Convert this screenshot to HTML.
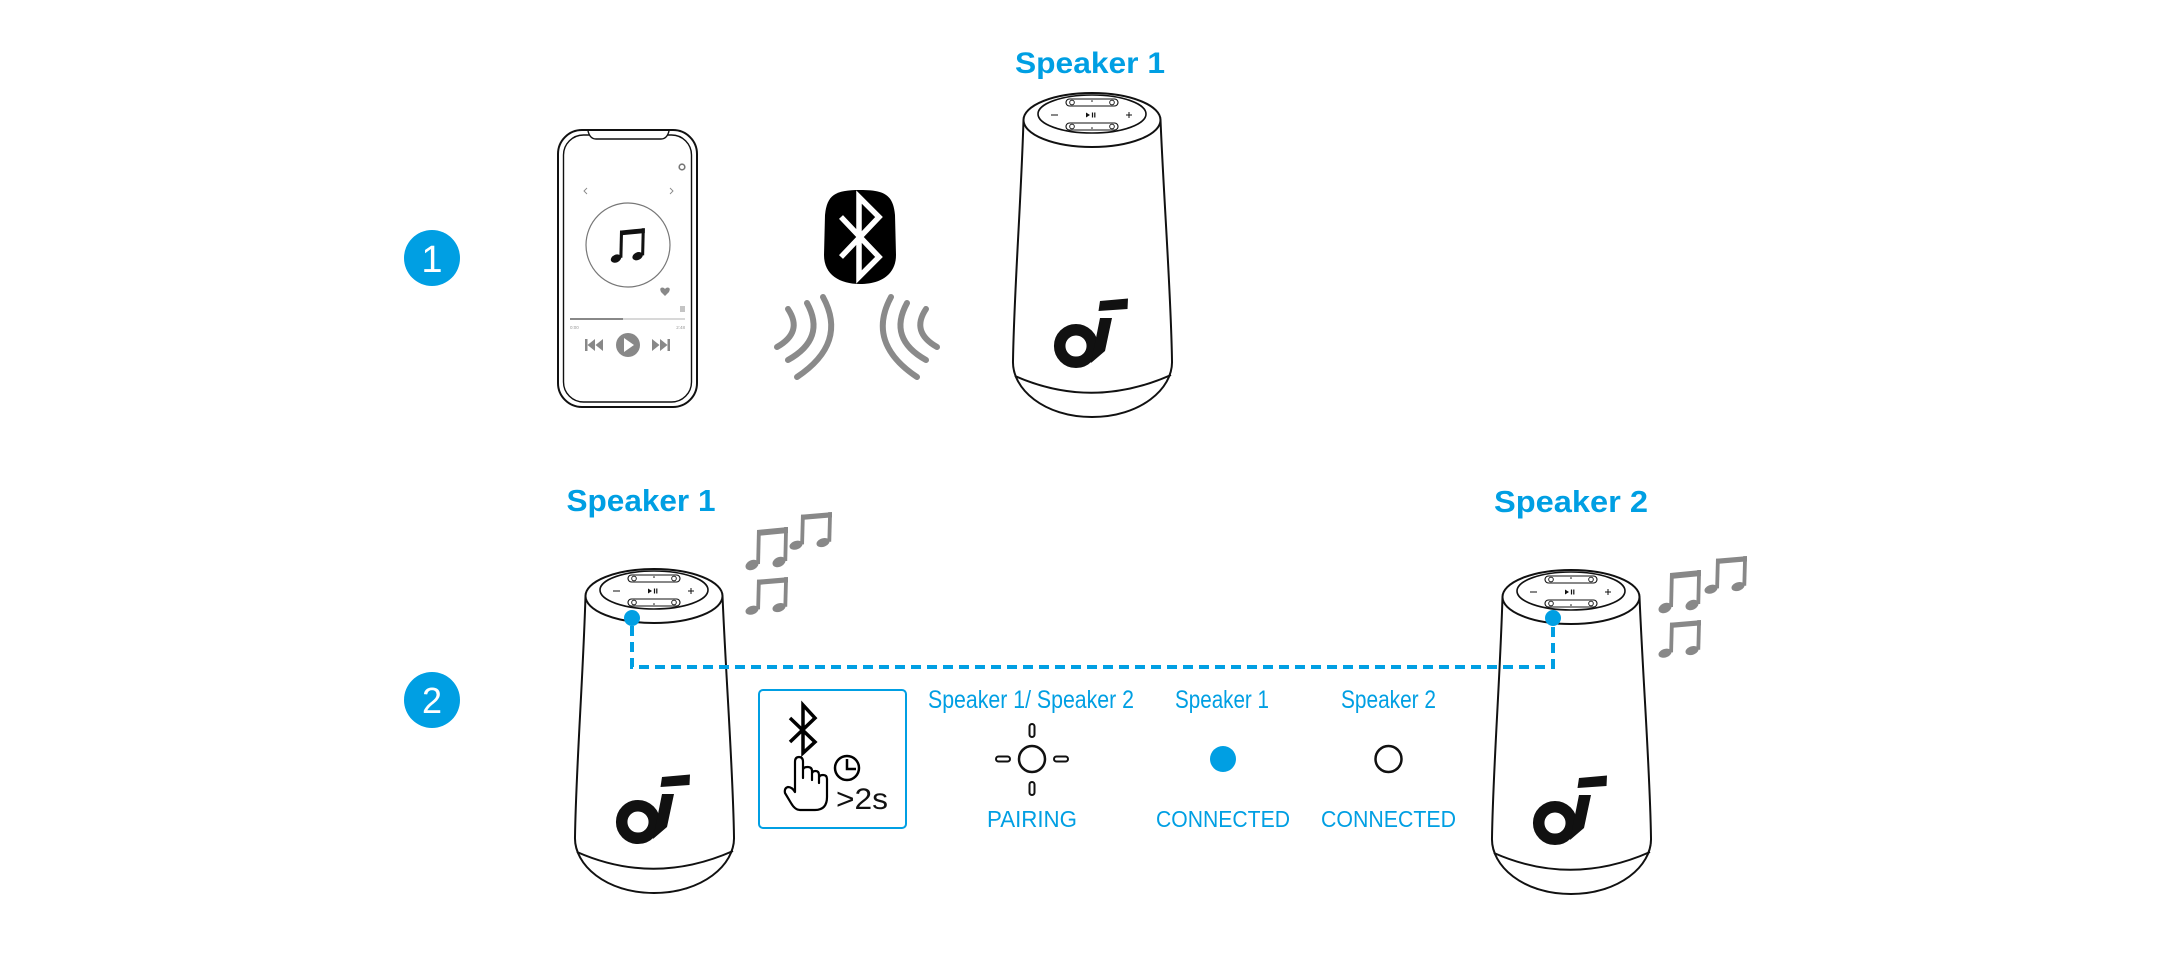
<!DOCTYPE html>
<html><head><meta charset="utf-8"><style>
html,body{margin:0;padding:0;background:#fff;}
svg{display:block;}
text{font-family:"Liberation Sans",Arial,sans-serif;}
</style></head><body>
<svg width="2180" height="960" viewBox="0 0 2180 960" xmlns="http://www.w3.org/2000/svg">
<defs>
  <g id="spk" fill="none" stroke="#111" stroke-width="2" stroke-linejoin="round">
    <path fill="#fff" d="M -68.5 27 C -71 110 -78 200 -79 268 C -80 296 -48 324 0 324 C 48 324 81 296 80 268 C 79 200 72 110 68.5 27 Z"/>
    <path d="M -77 283 Q 0 317 79 282"/>
    <ellipse cx="0" cy="27" rx="68.5" ry="27" fill="#fff"/>
    <ellipse cx="0" cy="21" rx="54" ry="19" stroke-width="1.6"/>
    <rect x="-26" y="6" width="52" height="7" rx="3.5" stroke-width="1.1"/>
    <circle cx="-20" cy="9.5" r="2.3" stroke-width="0.9"/>
    <circle cx="20" cy="9.5" r="2.3" stroke-width="0.9"/>
    <circle cx="0" cy="8" r="0.8" fill="#111" stroke="none"/>
    <rect x="-26" y="30" width="52" height="7" rx="3.5" stroke-width="1.1"/>
    <circle cx="-20" cy="33.5" r="2.3" stroke-width="0.9"/>
    <circle cx="20" cy="33.5" r="2.3" stroke-width="0.9"/>
    <circle cx="0" cy="35" r="0.8" fill="#111" stroke="none"/>
    <path d="M -41 22 L -34 22 M 34 22 L 40 22 M 37 19 L 37 25" stroke-width="1"/>
    <path d="M -6 19.5 L -6 24.5 L -2 22 Z" fill="#111" stroke="none"/>
    <path d="M 0.5 19.5 L 0.5 24.5 M 2.8 19.5 L 2.8 24.5" stroke-width="1.2"/>
    <circle cx="-16" cy="253" r="16.3" stroke="#111" stroke-width="11.5"/>
    <path d="M -1 270 L 13 258 L 20 225 L 8 225 Z" fill="#111" stroke="none"/>
    <path d="M 8 208 L 36 205.5 L 35.5 216 L 6.5 218 Z" fill="#111" stroke="none"/>
  </g>
  <g id="note">
    <path d="M0 2 L31 -1 L31 5 L0 8 Z"/>
    <path d="M0 2 L3.8 2 L3 36 L-0.8 36 Z"/>
    <ellipse cx="-5" cy="37" rx="6.8" ry="4.8" transform="rotate(-25 -5 37)"/>
    <path d="M27.2 -1 L31 -1 L30.2 33 L26.4 33 Z"/>
    <ellipse cx="22" cy="34" rx="6.8" ry="4.8" transform="rotate(-25 22 34)"/>
  </g>
</defs>

<!-- Step numbers -->
<circle cx="432" cy="258" r="28" fill="#009fe3"/>
<text x="432" y="272" font-size="38" fill="#fff" text-anchor="middle">1</text>
<circle cx="432" cy="700" r="28" fill="#009fe3"/>
<text x="432" y="713" font-size="36" fill="#fff" text-anchor="middle">2</text>

<!-- Phone -->
<rect x="558" y="130" width="139" height="277" rx="24" fill="#fff" stroke="#111" stroke-width="2"/>
<rect x="563.5" y="135" width="128" height="267" rx="20" fill="none" stroke="#111" stroke-width="1.4"/>
<path d="M 588 131 Q 590 139 596 139 L 661 139 Q 667 139 669 131" fill="#fff" stroke="#111" stroke-width="1.4"/>
<circle cx="682" cy="167" r="2.8" fill="none" stroke="#777" stroke-width="1.6"/>
<path d="M 587 188 L 584 191 L 587 194 M 670 188 L 673 191 L 670 194" fill="none" stroke="#888" stroke-width="0.9"/>
<circle cx="628" cy="245" r="42" fill="none" stroke="#777" stroke-width="1.2"/>
<use href="#note" transform="translate(620,229) scale(0.8)" fill="#111"/>
<path d="M 665 296 L 661 292 Q 659 288 662 287.5 Q 664 287.5 665 289 Q 666 287.5 668 287.5 Q 671 288 669 292 Z" fill="#888"/>
<path d="M 680 307 L 685 307 M 680 309 L 685 309 M 680 311 L 685 311" stroke="#888" stroke-width="1"/>
<line x1="570" y1="319" x2="685" y2="319" stroke="#ccc" stroke-width="1.5"/>
<line x1="570" y1="319" x2="623" y2="319" stroke="#888" stroke-width="2"/>
<text x="570" y="329" font-size="4.5" fill="#999">0:00</text>
<text x="685" y="329" font-size="4.5" fill="#999" text-anchor="end">2:48</text>
<g fill="#888">
  <rect x="585" y="339" width="2.5" height="12"/>
  <path d="M 595 339 L 587.5 345 L 595 351 Z M 603 339 L 595.5 345 L 603 351 Z"/>
  <circle cx="628" cy="345" r="12"/>
  <path d="M 652 339 L 659.5 345 L 652 351 Z M 660 339 L 667.5 345 L 660 351 Z"/>
  <rect x="667.5" y="339" width="2.5" height="12"/>
</g>
<path d="M 624 338 L 634 345 L 624 352 Z" fill="#fff"/>

<!-- Bluetooth blob -->
<path d="M 860 190 C 885 190 893 195 895 215 L 896 255 C 896 275 880 284 860 284 C 840 284 824 275 824 255 L 825 215 C 827 195 835 190 860 190 Z" fill="#000"/>
<path d="M 841 217 L 879 257 L 859 277 L 859 197 L 879 217 L 841 257" fill="none" stroke="#fff" stroke-width="5.5" stroke-linejoin="miter"/>
<g fill="none" stroke="#8a8a8a" stroke-width="6" stroke-linecap="round">
  <path d="M 823 297 Q 848 343 797 377"/>
  <path d="M 807 303 Q 826.5 338.5 788 360"/>
  <path d="M 788 309 Q 803.5 332 777 347"/>
  <path d="M 891 297 Q 866 343 917 377"/>
  <path d="M 907 303 Q 887.5 338.5 926 360"/>
  <path d="M 926 309 Q 910.5 332 937 347"/>
</g>

<!-- Row 1 speaker -->
<text x="1090" y="73" font-size="30" font-weight="bold" fill="#009fe3" text-anchor="middle" textLength="150" lengthAdjust="spacingAndGlyphs">Speaker 1</text>
<use href="#spk" transform="translate(1092,93)"/>

<!-- Row 2 labels -->
<text x="641" y="511" font-size="31" font-weight="bold" fill="#009fe3" text-anchor="middle" textLength="149" lengthAdjust="spacingAndGlyphs">Speaker 1</text>
<text x="1571" y="512" font-size="31" font-weight="bold" fill="#009fe3" text-anchor="middle" textLength="154" lengthAdjust="spacingAndGlyphs">Speaker 2</text>

<!-- Row 2 speakers -->
<use href="#spk" transform="translate(654,569)"/>
<use href="#spk" transform="translate(1571,570)"/>

<!-- notes -->
<g fill="#888">
  <use href="#note" transform="translate(757,528)"/>
  <use href="#note" transform="translate(801,513) scale(1,0.87)"/>
  <use href="#note" transform="translate(757,578) scale(1,0.87)"/>
  <use href="#note" transform="translate(1670,571)"/>
  <use href="#note" transform="translate(1716,557) scale(1,0.87)"/>
  <use href="#note" transform="translate(1670,621) scale(1,0.87)"/>
</g>

<!-- dashed connector -->
<polyline points="632,626 632,667 1553,667 1553,626" fill="none" stroke="#009fe3" stroke-width="4" stroke-dasharray="10 6"/>
<circle cx="632" cy="618" r="8" fill="#009fe3"/>
<circle cx="1553" cy="618" r="8" fill="#009fe3"/>

<!-- instruction box -->
<rect x="759" y="690" width="147" height="138" rx="4" fill="#fff" stroke="#009fe3" stroke-width="2"/>
<path d="M 790 718 L 815 742 L 803 753 L 803 705 L 815 718 L 790 742" fill="none" stroke="#000" stroke-width="3.5"/>
<path d="M 795 792 L 795 762 Q 795 757 799 757 Q 803 757 803 762 L 803 778 L 803 770 Q 803 767 807.5 767 Q 812 767 812 771 L 812 780 L 812 774 Q 812 771 815.5 771 Q 819 771 819 775 L 819 783 L 819 778 Q 819 775 823 775 Q 827 775 827 779 L 827 797 Q 827 810 815 810 L 800 810 Q 795 810 791 803 L 785 793 Q 784 788 788 787 Q 792 787 795 792 Z" fill="#fff" stroke="#000" stroke-width="2.2" stroke-linejoin="round"/>
<circle cx="847" cy="768" r="12" fill="none" stroke="#000" stroke-width="2.5"/>
<path d="M 847 759 L 847 769 L 856 769" fill="none" stroke="#000" stroke-width="2.5"/>
<text x="836" y="809" font-size="30" fill="#111" textLength="52" lengthAdjust="spacingAndGlyphs">&gt;2s</text>

<!-- LED states -->
<g fill="#009fe3" text-anchor="middle">
  <text x="1031" y="708" font-size="25" textLength="206" lengthAdjust="spacingAndGlyphs">Speaker 1/ Speaker 2</text>
  <text x="1222" y="708" font-size="25" textLength="94" lengthAdjust="spacingAndGlyphs">Speaker 1</text>
  <text x="1388.5" y="708" font-size="25" textLength="95" lengthAdjust="spacingAndGlyphs">Speaker 2</text>
  <text x="1032" y="827" font-size="23" textLength="90" lengthAdjust="spacingAndGlyphs">PAIRING</text>
  <text x="1223" y="827" font-size="23" textLength="134" lengthAdjust="spacingAndGlyphs">CONNECTED</text>
  <text x="1388.5" y="827" font-size="23" textLength="135" lengthAdjust="spacingAndGlyphs">CONNECTED</text>
</g>
<circle cx="1032" cy="759" r="13" fill="none" stroke="#111" stroke-width="2.5"/>
<g fill="none" stroke="#111" stroke-width="2">
  <rect x="1029.5" y="724" width="5" height="13" rx="2.5"/>
  <rect x="1029.5" y="782" width="5" height="13" rx="2.5"/>
  <rect x="996" y="756.5" width="14" height="5" rx="2.5"/>
  <rect x="1054" y="756.5" width="14" height="5" rx="2.5"/>
</g>
<circle cx="1223" cy="759" r="13" fill="#009fe3"/>
<circle cx="1388.5" cy="759" r="13" fill="none" stroke="#111" stroke-width="2.5"/>
</svg>
</body></html>
